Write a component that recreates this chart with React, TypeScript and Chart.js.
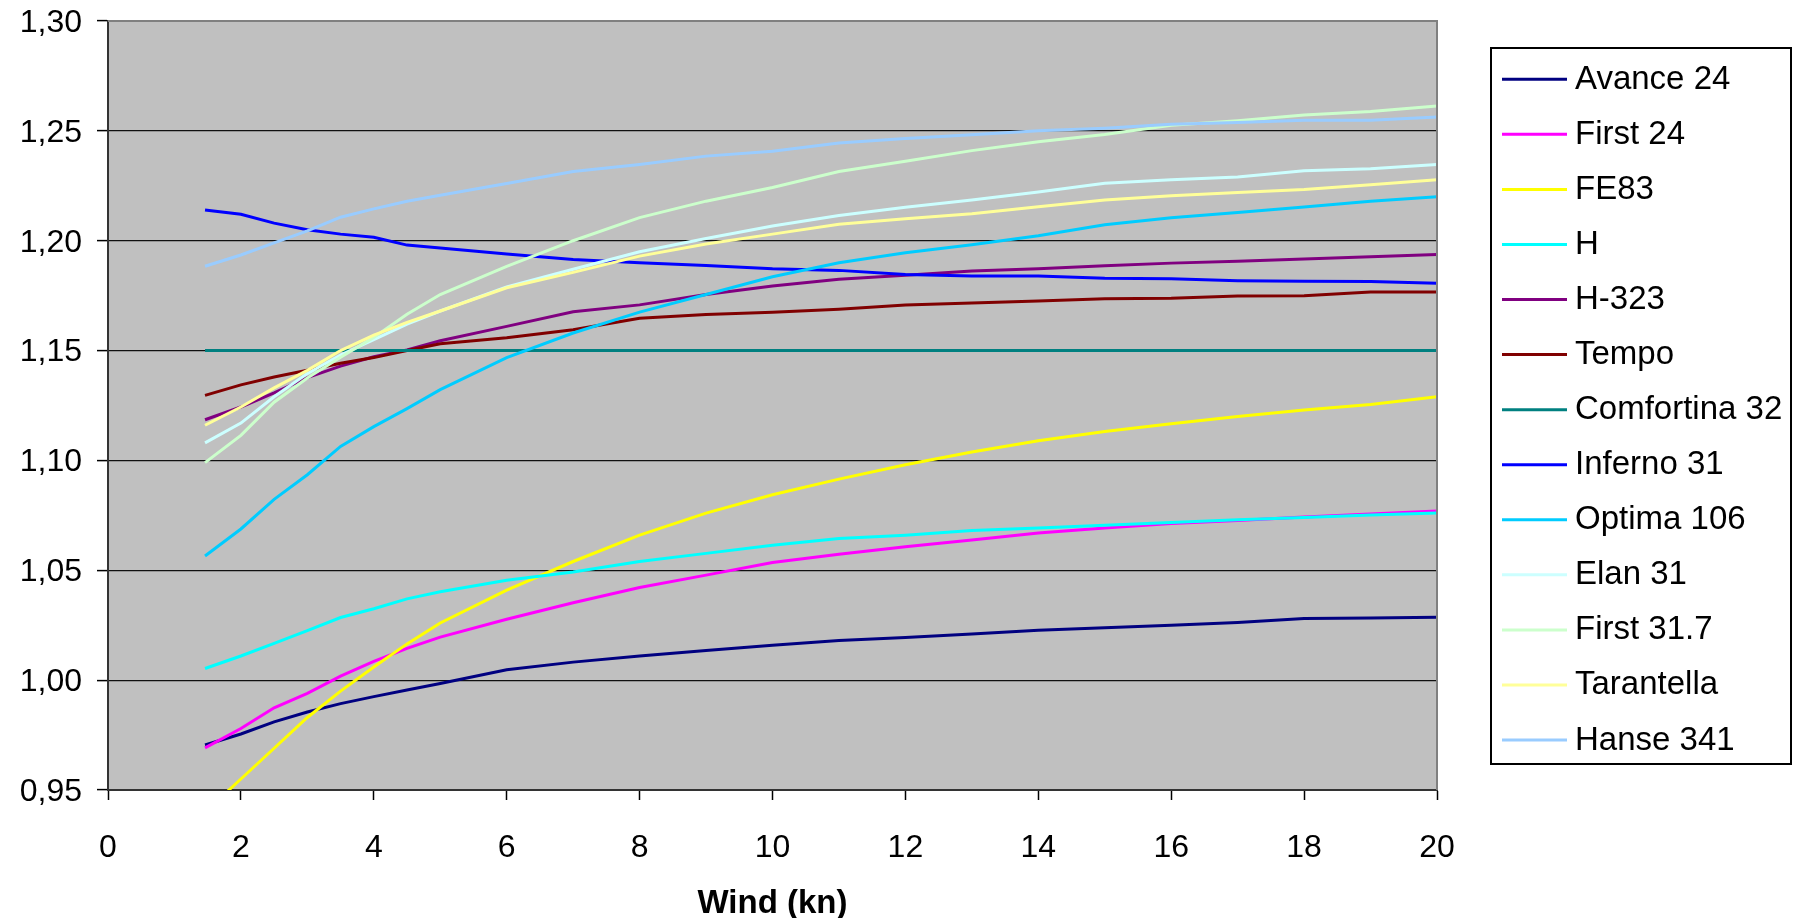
import React, { useEffect, useRef } from 'react';
import { Chart, registerables } from 'chart.js';

Chart.register(...registerables);

// Wind speed (kn) at which each series was read
const windSpeeds = [1.46, 2, 2.5, 3, 3.5, 4, 4.5, 5, 6, 7, 8, 9, 10, 11, 12, 13, 14, 15, 16, 17, 18, 19, 20];

const avance24 = [0.9705, 0.9755, 0.981, 0.9855, 0.9893, 0.9925, 0.9955, 0.9985, 1.0047, 1.0082, 1.011, 1.0135, 1.0159, 1.018, 1.0194, 1.021, 1.0227, 1.0238, 1.025, 1.0262, 1.028, 1.0283, 1.0286];
const first24 = [0.9692, 0.978, 0.9874, 0.994, 1.0018, 1.0085, 1.0145, 1.0196, 1.0277, 1.0352, 1.0422, 1.0478, 1.0535, 1.0573, 1.0607, 1.0638, 1.067, 1.0693, 1.0713, 1.0727, 1.0742, 1.0756, 1.077];
const fe83 = [0.94, 0.955, 0.969, 0.983, 0.995, 1.006, 1.0165, 1.026, 1.041, 1.054, 1.066, 1.076, 1.0844, 1.0915, 1.098, 1.1038, 1.109, 1.1132, 1.1167, 1.12, 1.1229, 1.1255, 1.129];
const hBoat = [1.0053, 1.011, 1.0167, 1.0225, 1.0285, 1.0325, 1.037, 1.0402, 1.0455, 1.0492, 1.054, 1.0577, 1.0614, 1.0645, 1.066, 1.0681, 1.0692, 1.0705, 1.0718, 1.073, 1.074, 1.0752, 1.0761];
const h323 = [1.1185, 1.1243, 1.1308, 1.1377, 1.1429, 1.1472, 1.1503, 1.1545, 1.161, 1.1677, 1.1708, 1.1755, 1.1794, 1.1825, 1.1843, 1.1862, 1.1872, 1.1886, 1.1898, 1.1907, 1.1917, 1.1927, 1.1937];
const tempo = [1.1296, 1.1344, 1.138, 1.141, 1.1442, 1.1468, 1.15, 1.1531, 1.1558, 1.1595, 1.1647, 1.1664, 1.1674, 1.1688, 1.1707, 1.1717, 1.1726, 1.1736, 1.1738, 1.1748, 1.175, 1.1767, 1.1767];
const comfortina32 = [1.15, 1.15, 1.15, 1.15, 1.15, 1.15, 1.15, 1.15, 1.15, 1.15, 1.15, 1.15, 1.15, 1.15, 1.15, 1.15, 1.15, 1.15, 1.15, 1.15, 1.15, 1.15, 1.15];
const inferno31 = [1.214, 1.212, 1.208, 1.205, 1.203, 1.2016, 1.198, 1.1967, 1.194, 1.1914, 1.19, 1.1887, 1.1872, 1.1865, 1.1846, 1.1839, 1.1839, 1.1829, 1.1827, 1.1818, 1.1815, 1.1814, 1.1806];
const optima106 = [1.0565, 1.0688, 1.0823, 1.0935, 1.1064, 1.1154, 1.1236, 1.1322, 1.1468, 1.158, 1.1675, 1.1755, 1.1836, 1.19, 1.1945, 1.1982, 1.2023, 1.2073, 1.2105, 1.2128, 1.2153, 1.218, 1.22];
const elan31 = [1.108, 1.117, 1.129, 1.1395, 1.148, 1.155, 1.162, 1.168, 1.179, 1.187, 1.195, 1.201, 1.2067, 1.2115, 1.2152, 1.2185, 1.2222, 1.2262, 1.2278, 1.229, 1.2318, 1.2327, 1.2347];
const first317 = [1.099, 1.1114, 1.1265, 1.1375, 1.147, 1.156, 1.1665, 1.1755, 1.1883, 1.2, 1.2105, 1.218, 1.2242, 1.2315, 1.2362, 1.241, 1.245, 1.2483, 1.2525, 1.2546, 1.2572, 1.2588, 1.2613];
const tarantella = [1.116, 1.1243, 1.133, 1.141, 1.15, 1.157, 1.1628, 1.168, 1.1786, 1.1856, 1.193, 1.1985, 1.203, 1.2075, 1.21, 1.2123, 1.2155, 1.2185, 1.2205, 1.222, 1.2233, 1.2255, 1.2278];
const hanse341 = [1.1884, 1.1935, 1.199, 1.2045, 1.2107, 1.2145, 1.218, 1.2207, 1.226, 1.2315, 1.2347, 1.2385, 1.2407, 1.2445, 1.2465, 1.2482, 1.25, 1.2512, 1.253, 1.2538, 1.2548, 1.2548, 1.2563];

const seriesNames = ['Avance 24', 'First 24', 'FE83', 'H', 'H-323', 'Tempo', 'Comfortina 32', 'Inferno 31', 'Optima 106', 'Elan 31', 'First 31.7', 'Tarantella', 'Hanse 341'];
const seriesValues = [avance24, first24, fe83, hBoat, h323, tempo, comfortina32, inferno31, optima106, elan31, first317, tarantella, hanse341];
const seriesColors = ['#000080', '#FF00FF', '#FFFF00', '#00FFFF', '#800080', '#800000', '#008080', '#0000FF', '#00CCFF', '#CCFFFF', '#CCFFCC', '#FFFF99', '#99CCFF'];

const xAxisTitle = 'Wind (kn)';
const FONT = "'Liberation Sans', Arial, sans-serif";

const plotBackground = {
  id: 'plotBackground',
  beforeDraw(chart: any) {
    const { ctx, chartArea } = chart;
    ctx.save();
    ctx.fillStyle = '#C0C0C0';
    ctx.fillRect(chartArea.left, chartArea.top, chartArea.right - chartArea.left, chartArea.bottom - chartArea.top);
    ctx.restore();
  },
  afterDraw(chart: any) {
    const { ctx, chartArea } = chart;
    ctx.save();
    ctx.strokeStyle = '#808080';
    ctx.lineWidth = 2;
    ctx.beginPath();
    ctx.moveTo(chartArea.left, chartArea.top);
    ctx.lineTo(chartArea.right, chartArea.top);
    ctx.lineTo(chartArea.right, chartArea.bottom);
    ctx.stroke();
    ctx.restore();
  },
};

const boxLegend = {
  id: 'boxLegend',
  afterDraw(chart: any) {
    const { ctx } = chart;
    const datasets = chart.data.datasets;
    const boxL = 1491, boxT = 48, boxR = 1791, boxB = 764;
    ctx.save();
    ctx.fillStyle = '#FFFFFF';
    ctx.fillRect(boxL, boxT, boxR - boxL, boxB - boxT);
    ctx.strokeStyle = '#000000';
    ctx.lineWidth = 2;
    ctx.strokeRect(boxL, boxT, boxR - boxL, boxB - boxT);
    const firstY = 79.3;
    const step = 55.06;
    ctx.font = `33px ${FONT}`;
    ctx.textAlign = 'left';
    ctx.textBaseline = 'alphabetic';
    datasets.forEach((ds: any, i: number) => {
      const y = firstY + step * i;
      ctx.strokeStyle = ds.borderColor;
      ctx.lineWidth = 3;
      ctx.beginPath();
      ctx.moveTo(1502, y);
      ctx.lineTo(1567, y);
      ctx.stroke();
      ctx.fillStyle = '#000000';
      ctx.fillText(ds.label, 1575, y + 9.5);
    });
    ctx.restore();
  },
};

export default function App() {
  const ref = useRef<HTMLCanvasElement>(null);

  useEffect(() => {
    const canvas = ref.current;
    if (!canvas) return;
    const n = seriesNames.length;
    const datasets = seriesNames.map((name, i) => ({
      label: name,
      data: windSpeeds.map((w, j) => ({ x: w, y: seriesValues[i][j] })),
      borderColor: seriesColors[i],
      backgroundColor: seriesColors[i],
      borderWidth: 3,
      pointRadius: 0,
      pointHoverRadius: 0,
      tension: 0,
      fill: false,
      order: n - i,
    }));

    const chart = new Chart(canvas, {
      type: 'line',
      data: { datasets },
      options: {
        responsive: false,
        animation: false,
        devicePixelRatio: 1,
        layout: { padding: { top: 21, right: 356, left: 0, bottom: 0 } },
        plugins: {
          legend: { display: false },
          tooltip: { enabled: false },
        },
        scales: {
          x: {
            type: 'linear',
            min: 0,
            max: 20,
            afterFit: (scale: any) => {
              scale.height = 128;
              scale.paddingLeft = 0;
              scale.paddingRight = 0;
            },
            ticks: {
              stepSize: 2,
              color: '#000',
              font: { family: FONT, size: 32 },
              padding: 29,
              maxRotation: 0,
            },
            grid: {
              display: true,
              drawOnChartArea: false,
              drawTicks: true,
              tickLength: 10,
              tickColor: '#000',
              tickWidth: 1.5,
            },
            border: { display: true, color: '#333333', width: 2 },
            title: {
              display: true,
              text: xAxisTitle,
              color: '#000',
              font: { family: FONT, size: 33, weight: 'bold' },
              padding: { top: 0, bottom: -6 },
            },
          },
          y: {
            type: 'linear',
            min: 0.95,
            max: 1.3,
            afterFit: (scale: any) => {
              scale.width = 108;
              scale.paddingTop = 0;
              scale.paddingBottom = 0;
            },
            ticks: {
              stepSize: 0.05,
              color: '#000',
              font: { family: FONT, size: 32 },
              padding: 15,
              labelOffset: 2,
              callback: (v: any) => Number(v).toFixed(2).replace('.', ','),
            },
            grid: {
              display: true,
              drawOnChartArea: true,
              drawTicks: true,
              tickLength: 11,
              tickColor: '#000',
              tickWidth: 1.5,
              lineWidth: 1.2,
              color: (ctx: any) => (ctx.tick && ctx.tick.value > 1.299 ? 'rgba(0,0,0,0)' : '#111111'),
            },
            border: { display: true, color: '#333333', width: 2 },
          },
        },
      },
      plugins: [plotBackground, boxLegend],
    } as any);

    return () => chart.destroy();
  }, []);

  return (
    <div style={{ position: 'fixed', left: 0, top: 0, width: 1793, height: 918, background: '#FFFFFF' }}>
      <canvas ref={ref} width={1793} height={918} style={{ display: 'block', width: 1793, height: 918 }} />
    </div>
  );
}
